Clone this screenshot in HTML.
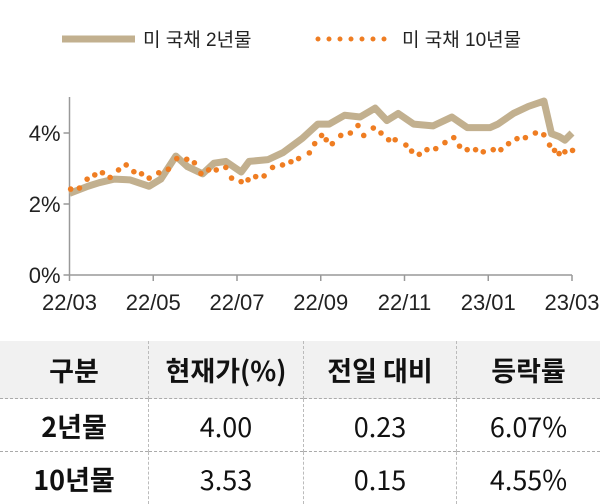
<!DOCTYPE html>
<html><head><meta charset="utf-8">
<style>
body{margin:0;width:600px;height:504px;background:#fff;overflow:hidden;font-family:"Liberation Sans","Noto Sans CJK KR",sans-serif;}
svg{position:absolute;left:0;top:0}
table{position:absolute;left:0;top:341px;width:600px;border-collapse:collapse;font-size:27px;color:#111;font-family:"Noto Sans CJK KR","Liberation Sans",sans-serif;}
td{text-align:center;padding:0;border-left:1px dashed #bbb;line-height:1;}
td:first-child{border-left:none;}
tr.h td{background:#f1f1f1;height:57px;font-weight:bold;}
tr.r td{height:52px;border-top:1px dashed #aaa;}
tr.r td:first-child{font-weight:bold;}
</style></head><body>
<svg width="600" height="340" id="chart">
<g>
<line x1="62" y1="39" x2="135" y2="39" stroke="#c2b08f" stroke-width="7"/>
<text x="143" y="46" font-size="19" fill="#222">미 국채 2년물</text>
<line x1="318" y1="39" x2="392" y2="39" stroke="#ef7d22" stroke-width="5" stroke-linecap="round" stroke-dasharray="0 11"/>
<text x="402" y="46" font-size="19" fill="#222">미 국채 10년물</text>
</g>
<g id="axes"></g>
<g id="marks"></g>
</svg>
<table>
<tr class="h"><td style="width:148px">구분</td><td style="width:154px">현재가(%)</td><td style="width:152px">전일 대비</td><td>등락률</td></tr>
<tr class="r"><td>2년물</td><td>4.00</td><td>0.23</td><td>6.07%</td></tr>
<tr class="r"><td>10년물</td><td>3.53</td><td>0.15</td><td>4.55%</td></tr>
</table>
<script>
const xTickLabels=["22/03","22/05","22/07","22/09","22/11","23/01","23/03"];
const yTicks=[0,2,4];
// months since 22/03
const t2y=[0,0.44,0.71,1.07,1.44,1.9,2.18,2.54,2.82,3.18,3.45,3.73,4.1,4.29,4.74,5.1,5.56,5.93,6.2,6.57,6.94,7.3,7.58,7.85,8.22,8.68,9.13,9.5,10.04,10.23,10.6,10.96,11.33,11.51,11.69,11.83,12.0];
const v2y=[2.3,2.5,2.6,2.7,2.68,2.5,2.7,3.35,3.05,2.85,3.15,3.2,2.9,3.2,3.25,3.45,3.85,4.25,4.25,4.5,4.45,4.7,4.35,4.55,4.25,4.2,4.45,4.15,4.15,4.25,4.55,4.75,4.9,3.98,3.9,3.8,4.0];
const dotX=[185,208,228,248,268,288,310,330,350,370,390,415,440,462,488,508,525,545,565,590,605,630,648,668,690,712,738,760,780,808,822,840,852,868,890,915,935,950,975,995,1015,1032,1060,1075,1095,1115,1138,1162,1185,1200,1220,1242,1262,1288,1308,1328,1350,1372,1398,1420,1435,1448,1460,1475,1495];
const v10y=[2.42,2.45,2.7,2.82,2.88,2.75,2.96,3.1,2.91,2.85,2.73,2.88,2.98,3.28,3.26,3.16,2.86,2.96,2.96,3.03,2.73,2.63,2.68,2.77,2.79,3.03,3.1,3.19,3.28,3.44,3.7,3.93,3.81,3.7,3.93,4.0,4.21,3.93,4.14,4.0,3.81,3.81,3.66,3.49,3.4,3.53,3.56,3.73,3.87,3.63,3.53,3.53,3.47,3.53,3.53,3.7,3.84,3.87,4.0,3.95,3.66,3.51,3.42,3.47,3.51];
const t10y=dotX.map(z=>(z-182)/109.3);
const X=m=>69.5+m*(572-69.5)/12;
const Y=v=>275-v*35.5;
const NS="http://www.w3.org/2000/svg";
const axes=document.getElementById('axes'),marks=document.getElementById('marks');
function mk(tag,attrs,parent){const e=document.createElementNS(NS,tag);for(const k in attrs)e.setAttribute(k,attrs[k]);parent.appendChild(e);return e;}
let a=mk('line',{x1:X(0),y1:97,x2:X(0),y2:Y(0),stroke:'#999','stroke-width':1.5},axes);


a=mk('line',{x1:X(0),y1:Y(0),x2:X(12),y2:Y(0),stroke:'#999','stroke-width':1.5},axes);


yTicks.forEach(v=>{
 mk('line',{x1:X(0)-6,y1:Y(v),x2:X(0),y2:Y(v),stroke:'#999','stroke-width':1.5},axes);
 const t=mk('text',{x:X(0)-9,y:Y(v)+8,'font-size':22,'text-anchor':'end',fill:'#222'},axes);
 t.textContent=v+'%';
 
 
});
xTickLabels.forEach((l,i)=>{
 const x=X(i*2);
 mk('line',{x1:x,y1:Y(0),x2:x,y2:Y(0)+6,stroke:'#999','stroke-width':1.5},axes);
 const t=mk('text',{x:x,y:310,'font-size':22,'text-anchor':'middle',fill:'#222'},axes);
 t.textContent=l;
 
 
});
const p=mk('polyline',{points:t2y.map((m,i)=>X(m)+','+Y(v2y[i])).join(' '),fill:'none',stroke:'#c2b08f','stroke-width':7,'stroke-linejoin':'round'},marks);


t10y.forEach((m,i)=>{
 const c=mk('circle',{cx:X(m),cy:Y(v10y[i]),r:2.8,fill:'#ef7d22'},marks);
 
 
});
</script>
</body></html>
